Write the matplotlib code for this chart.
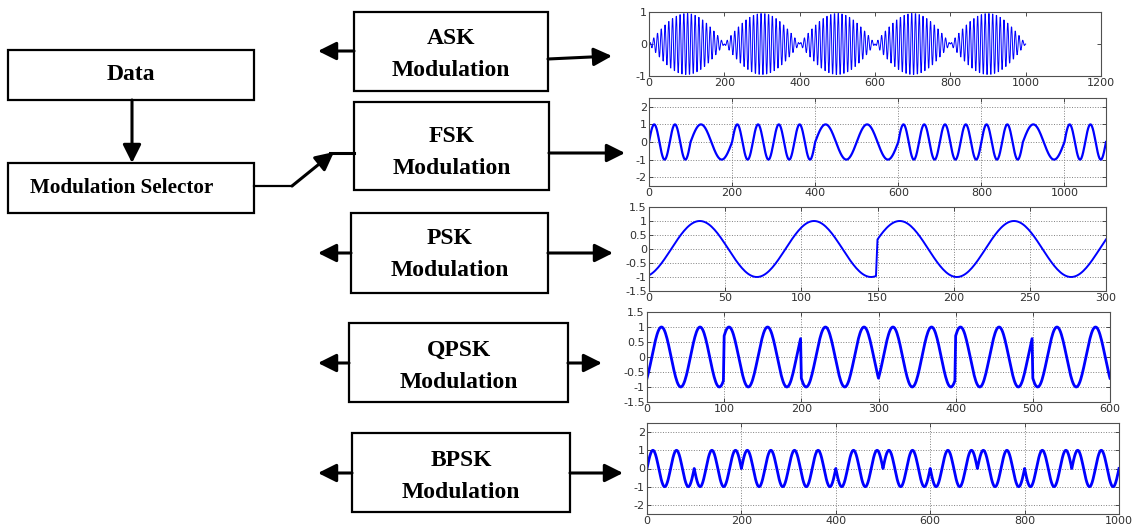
import numpy as np
import matplotlib.pyplot as plt
from matplotlib.patches import Rectangle, FancyArrowPatch, ArrowStyle

plt.rcParams['axes.unicode_minus'] = False

# ---- signal data ----
# ASK: message lobes and carrier
ask_msg_period = 400
ask_carrier_period = 10
ask_len = 1000
# FSK: one bit per 100 samples, 1 -> fast carrier, 0 -> slow carrier
fsk_bits = [1, 0, 1, 1, 0, 0, 1, 1, 1, 0, 1]
fsk_periods = {1: 50, 0: 100}
fsk_sym = 100
# PSK: two symbols of 150 samples
psk_phase_deg = [-70, 20]
psk_period = 75
psk_sym = 150
# QPSK: six symbols of 100 samples
qpsk_phase_deg = [-45, 45, -135, -45, 45, -135]
qpsk_period = 50
qpsk_sym = 100
# BPSK: ten bits of 100 samples
bpsk_bits = [1, 0, 1, 1, 0, 1, 0, 1, 0, 1]
bpsk_period = 50
bpsk_sym = 100

# ---- build the waveforms ----
t_ask = np.arange(ask_len + 1)
ask = np.sin(2*np.pi*t_ask/ask_msg_period) * np.sin(2*np.pi*t_ask/ask_carrier_period)

t_fsk = np.arange(len(fsk_bits)*fsk_sym + 1)
fsk_p = np.array([fsk_periods[fsk_bits[min(int(k//fsk_sym), len(fsk_bits)-1)]] for k in t_fsk])
fsk = np.sin(2*np.pi*t_fsk/fsk_p)

t_psk = np.arange(len(psk_phase_deg)*psk_sym + 1)
idx = np.minimum(t_psk//psk_sym, len(psk_phase_deg)-1)
psk = np.sin(2*np.pi*t_psk/psk_period + np.radians(np.array(psk_phase_deg)[idx]))

t_qpsk = np.arange(len(qpsk_phase_deg)*qpsk_sym + 1)
idx = np.minimum(t_qpsk//qpsk_sym, len(qpsk_phase_deg)-1)
qpsk = np.sin(2*np.pi*t_qpsk/qpsk_period + np.radians(np.array(qpsk_phase_deg)[idx]))

t_bpsk = np.arange(len(bpsk_bits)*bpsk_sym + 1)
idx = np.minimum(t_bpsk//bpsk_sym, len(bpsk_bits)-1)
bpsk = np.sin(2*np.pi*t_bpsk/bpsk_period + np.pi*(1-np.array(bpsk_bits)[idx]))

W, H = 1133, 524
fig = plt.figure(figsize=(W/100, H/100), dpi=100)

# background axes in pixel units for the block diagram
bg = fig.add_axes([0, 0, 1, 1])
bg.set_xlim(0, W)
bg.set_ylim(H, 0)
bg.axis('off')

serif = dict(family='Liberation Serif', weight='bold', color='k', ha='center', va='center')

def box(x0, y0, x1, y1):
    bg.add_patch(Rectangle((x0, y0), x1-x0, y1-y0, fill=False, ec='k', lw=1.6))

def arrow(x0, y0, x1, y1):
    bg.add_patch(FancyArrowPatch((x0, y0), (x1, y1),
                                 arrowstyle=ArrowStyle('-|>', head_length=1.0, head_width=0.5),
                                 mutation_scale=11, lw=2.2, color='k', shrinkA=0, shrinkB=0))

# Data and selector
box(8, 50, 254, 100)
bg.text(131, 75, 'Data', fontsize=17, **serif)
arrow(132, 100, 132, 163)
box(8, 163, 254, 213)
bg.text(122, 188, 'Modulation Selector', fontsize=15.2, **serif)
bg.plot([254, 292], [186, 186], color='k', lw=1.6)
arrow(292, 186, 334, 152)

# modulation boxes: (x0, y0, x1, y1, name, y_name, y_mod, left_y, right_start, right_end)
blocks = [
    (354, 12, 548, 91, 'ASK', 38, 70, 51, (548, 59), (612, 56)),
    (354, 102, 549, 190, 'FSK', 137, 168, 153, (549, 153), (625, 153)),
    (351, 213, 548, 293, 'PSK', 238, 271, 253, (548, 253), (613, 253)),
    (349, 323, 568, 402, 'QPSK', 350, 382, 363, (568, 363), (602, 363)),
    (352, 433, 570, 512, 'BPSK', 460, 492, 473, (570, 473), (623, 473)),
]
for x0, y0, x1, y1, name, yn, ym, ly, rs, re in blocks:
    box(x0, y0, x1, y1)
    cx = (x0 + x1) / 2
    bg.text(cx, yn, name, fontsize=17, **serif)
    bg.text(cx, ym, 'Modulation', fontsize=17, **serif)
    if name == 'FSK':
        bg.plot([x0, 330], [ly, ly], color='k', lw=2.2)
    else:
        arrow(x0, ly, 318, ly)
    arrow(rs[0], rs[1], re[0], re[1])

# ---- waveform panels ----
def panel(l, t, r, b):
    ax = fig.add_axes([l/W, 1-b/H, (r-l)/W, (b-t)/H])
    ax.tick_params(direction='in', top=True, right=True, length=3, width=0.6,
                   labelsize=8, colors='#303030', pad=1.5)
    for s in ax.spines.values():
        s.set_color('#505050')
        s.set_linewidth(0.8)
    return ax

def dotted_grid(ax):
    ax.grid(True, linestyle=':', color='#808080', lw=0.7)
    ax.set_axisbelow(True)

ax1 = panel(649, 12, 1101, 76)
ax1.plot(t_ask, ask, color='#0000ff', lw=0.7)
ax1.set_xlim(0, 1200)
ax1.set_ylim(-1, 1)
ax1.set_xticks(range(0, 1201, 200))
ax1.set_yticks([-1, 0, 1])

ax2 = panel(649, 98, 1106, 186)
ax2.plot(t_fsk, fsk, color='#0000ff', lw=1.6)
ax2.set_xlim(0, 1100)
ax2.set_ylim(-2.5, 2.5)
ax2.set_xticks(range(0, 1001, 200))
ax2.set_yticks([-2, -1, 0, 1, 2])
dotted_grid(ax2)

ax3 = panel(649, 207, 1106, 291)
ax3.plot(t_psk, psk, color='#0000ff', lw=1.4)
ax3.set_xlim(0, 300)
ax3.set_ylim(-1.5, 1.5)
ax3.set_xticks(range(0, 301, 50))
ax3.set_yticks([-1.5, -1, -0.5, 0, 0.5, 1, 1.5])
ax3.set_yticklabels(['-1.5', '-1', '-0.5', '0', '0.5', '1', '1.5'])
dotted_grid(ax3)

ax4 = panel(647, 312, 1110, 402)
ax4.plot(t_qpsk, qpsk, color='#0000ff', lw=2)
ax4.set_xlim(0, 600)
ax4.set_ylim(-1.5, 1.5)
ax4.set_xticks(range(0, 601, 100))
ax4.set_yticks([-1.5, -1, -0.5, 0, 0.5, 1, 1.5])
ax4.set_yticklabels(['-1.5', '-1', '-0.5', '0', '0.5', '1', '1.5'])
dotted_grid(ax4)

ax5 = panel(647, 423, 1119, 514)
ax5.plot(t_bpsk, bpsk, color='#0000ff', lw=2)
ax5.set_xlim(0, 1000)
ax5.set_ylim(-2.5, 2.5)
ax5.set_xticks(range(0, 1001, 200))
ax5.set_yticks([-2, -1, 0, 1, 2])
dotted_grid(ax5)

fig.savefig('out.png', dpi=100)
